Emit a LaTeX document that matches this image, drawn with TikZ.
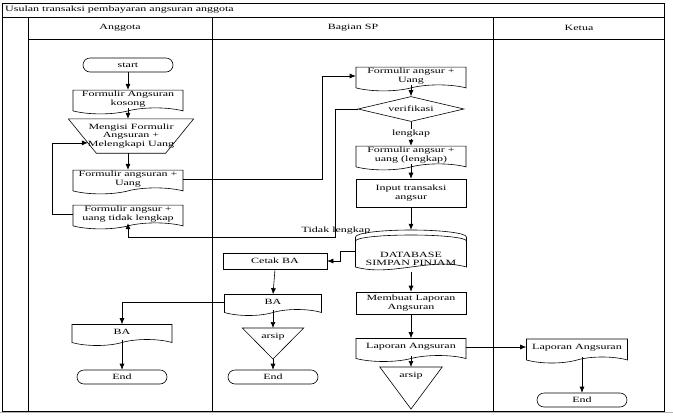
\documentclass[tikz,border=0pt]{standalone}
\usepackage{fontspec}
\setmainfont{Liberation Serif}[FakeStretch=1.5]
\usetikzlibrary{shapes.symbols,shapes.geometric,calc,arrows.meta}

\begin{document}
\begin{tikzpicture}[x=1pt,y=-1pt,>={Latex[length=6pt,width=5pt]},
  font=\fontsize{8}{8.5}\selectfont,
  every node/.style={inner sep=1pt,align=center},
  doc/.style={draw,line width=0.6pt,tape,tape bend top=none,tape bend height=6pt,
    minimum width=#1,minimum height=23pt},
  doc/.default=110pt,
  proc/.style={draw,line width=0.6pt,rectangle,minimum width=110pt,minimum height=22pt},
  term/.style={draw,line width=0.6pt,rounded corners=7pt,minimum width=90pt,minimum height=14pt},
  arsipbox/.style={anchor=north,minimum width=61pt,inner ysep=4.5pt},
  flow/.style={->,line width=0.6pt}]
\useasboundingbox (0,0) rectangle (673,416);

% swimlanes
\draw[line width=0.8pt] (2,3) rectangle (664,411);
\draw[line width=0.8pt] (2,17) -- (664,17);
\draw[line width=0.8pt] (28,39) -- (664,39);
\draw[line width=0.8pt] (28,17) -- (28,411);
\draw[line width=0.8pt] (212,17) -- (212,411);
\draw[line width=0.8pt] (493,17) -- (493,411);
\draw[gray!60,line width=1.5pt] (0,412.5) -- (673,412.5);
\node[anchor=west] (title) at (4,10) {Usulan transaksi pembayaran angsuran anggota};
\node (hAnggota) at (120,28) {Anggota};
\node (hBagian) at (353,28) {Bagian SP};
\node (hKetua) at (579,28) {Ketua};

% Anggota
\node[term] (start) at (128,65) {start};
\node[doc] (fak) at (128,99) {Formulir Angsuran\\kosong};
\node[minimum width=125pt,minimum height=34pt] (isi) at (131,136) {Mengisi Formulir\\Angsuran +\\Melengkapi Uang};
\draw[line width=0.6pt] (isi.north west) -- (isi.north east) -- ([xshift=-28pt]isi.south east)
  -- ([xshift=28pt]isi.south west) -- cycle;
\node[doc] (fau) at (128,179) {Formulir angsuran +\\Uang};
\node[doc] (ftl) at (128,214) {Formulir angsur +\\uang tidak lengkap};
\node[doc=100pt,minimum height=21pt] (baA) at (122,332) {BA};
\node[term] (endA) at (122,377) {End};

% Bagian SP
\node[doc] (fsp) at (411,76) {Formulir angsur +\\Uang};
\node[draw,line width=0.6pt,diamond,aspect=4.2,minimum width=106pt,minimum height=25pt,inner sep=0pt] (verif) at (411,109) {verifikasi};
\node[doc] (fl) at (411,155) {Formulir angsur +\\uang (lengkap)};
\node[proc,minimum height=28pt] (input) at (411,193) {Input transaksi\\angsur};
\node[minimum width=111pt,minimum height=42pt] (db) at (411,251) {};
\begin{scope}[shift={(db.center)},line width=0.6pt]
\draw (-55.5,-14) arc[start angle=180,end angle=0,x radius=55.5pt,y radius=7pt];
\draw (-55.5,-10) arc[start angle=180,end angle=0,x radius=55.5pt,y radius=6pt];
\draw (55.5,-14) -- (55.5,16) .. controls (20,6) and (-20,26) .. (-55.5,16) -- (-55.5,-14);
\end{scope}
\node (dbtext) at ([yshift=-8pt]db.center) {DATABASE\\SIMPAN PINJAM};
\node[proc,minimum width=104pt,minimum height=16pt] (cetak) at (275,261) {Cetak BA};
\node[doc=97pt,minimum height=21pt] (ba) at (273,302) {BA};
\node[arsipbox] (arsipS) at (273,328) {arsip};
\draw[line width=0.6pt] (arsipS.north west) -- (arsipS.north east) -- ($(arsipS.north)+(0,31)$) coordinate (arsipStip) -- cycle;
\node[term] (endS) at (273,377) {End};
\node[proc] (membuat) at (411,303) {Membuat Laporan\\Angsuran};
\node[doc] (lap) at (411,347) {Laporan Angsuran};
\node[arsipbox,minimum width=62pt] (arsipL) at (411,367) {arsip};
\draw[line width=0.6pt] (arsipL.north west) -- (arsipL.north east) -- ($(arsipL.north)+(0,42)$) -- cycle;

% Ketua
\node[doc=101pt,minimum height=24pt] (lapK) at (577,348) {Laporan Angsuran};
\node[term] (endK) at (582,400) {End};

% turning points
\coordinate (turn1) at (322,0);
\coordinate (turn2) at (335,237);
\coordinate (turn3) at (52,0);
\coordinate (turn4) at (340,0);
\coordinate (isiL) at ($(isi.north west)!0.7!([xshift=28pt]isi.south west)$);

% connectors
\draw[flow] (start.south) -- (fak.north);
\draw[flow] (fak.south) -- (fak.south |- isi.north);
\draw[flow] (fau.north |- isi.south) -- (fau.north);
\draw[flow] (fau.east) -| (turn1 |- fsp.west) -- (fsp.west);
\draw[flow] (fsp.south) -- (verif.north);
\draw[flow] (verif.south) -- node[fill=white,inner sep=1.5pt] (lblLengkap) {lengkap} (fl.north);
\draw[flow] (fl.south) -- (input.north);
\draw[flow] (input.south) -- (db.north);
\draw[flow] (verif.west) -| (turn2) -| (ftl.south);
\node (lblTidak) at (336,231) {Tidak lengkap};
\draw[flow] (ftl.west) -| (turn3 |- isiL) -- (isiL);
\draw[flow] (db.west) -| (turn4 |- cetak.east) -- (cetak.east);
\draw[flow] (cetak.south) -- (ba.north);
\draw[flow] (ba.south) -- (arsipS.north);
\draw[flow] (arsipStip) -- (endS.north);
\draw[flow] (ba.west) -| (baA.north);
\draw[flow] (baA.south) -- (endA.north);
\draw[flow] (db.south) -- (membuat.north);
\draw[flow] (membuat.south) -- (lap.north);
\draw[flow] (lap.south) -- (arsipL.north);
\draw[flow] (lap.east) -- (lap.east -| lapK.west);
\draw[flow] (endK.north |- lapK.south) -- (endK.north);
\end{tikzpicture}
\end{document}
